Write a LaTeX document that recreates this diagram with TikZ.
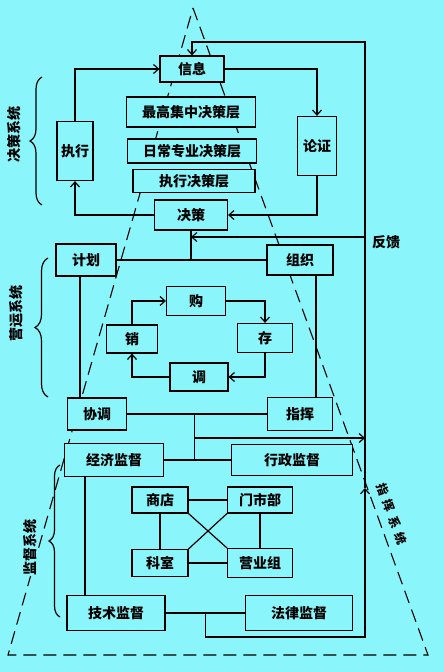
\documentclass[tikz,border=0pt]{standalone}
\usepackage{fontspec}
\setmainfont{Noto Sans CJK SC}
\usepackage{tikz}
\usetikzlibrary{arrows.meta, decorations.pathreplacing, calc}
\definecolor{bgcyan}{HTML}{8AF5FA}

\begin{document}
\begin{tikzpicture}[x=1pt, y=-1pt, line width=1.2pt, font=\fontsize{14}{16}\selectfont\bfseries,
    >={Straight Barb[length=5pt,width=9pt]},
    box/.style 2 args={draw, rectangle, fill=bgcyan, inner sep=0pt, minimum width=#1pt, minimum height=#2pt},
    tri/.style={dash pattern=on 13pt off 7pt, line width=1.1pt},
    brc/.style={decorate, decoration={brace, amplitude=#1}},
    sys/.style={fill=bgcyan, inner sep=1pt, rotate=90}]
    \fill[bgcyan] (0,0) rectangle (444,672);
    \useasboundingbox (0,0) rectangle (444,672);
    \draw[tri] (193,8) -- (428,655) -- (8,655) -- cycle;

    \node[box={64}{26}] (xinxi) at (192,69) {信息};
    \node[box={129}{30}] (zuigao) at (191,112) {最高集中决策层};
    \node[box={129}{24}] (richang) at (192,151) {日常专业决策层};
    \node[box={122}{23}] (zxceng) at (194,181) {执行决策层};
    \node[box={73}{30}] (juece) at (191,215) {决策};
    \node[box={36}{59}] (zhixing) at (75,151) {执行};
    \node[box={39}{59}] (lunzheng) at (317,146) {论证};

    \node[box={60}{32}] (jihua) at (86,260) {计划};
    \node[box={66}{30}] (zuzhi) at (300,260) {组织};
    \node[box={59}{29}] (gou) at (196,301) {购};
    \node[box={51}{28}] (xiao) at (132,339) {销};
    \node[box={55}{29}] (cun) at (265,338) {存};
    \node[box={58}{28}] (tiao) at (199,377) {调};
    \node[box={59}{32}] (xietiao) at (97,414) {协调};
    \node[box={65}{33}] (zhihui) at (300,414) {指挥};

    \node[box={99}{33}] (jingji) at (114,460) {经济监督};
    \node[box={121}{31}] (xingzheng) at (292,460) {行政监督};
    \node[box={56}{26}] (shangdian) at (160,500) {商店};
    \node[box={65}{26}] (menshi) at (260,500) {门市部};
    \node[box={56}{27}] (keshi) at (160,563) {科室};
    \node[box={65}{29}] (yingye) at (260,563) {营业组};
    \node[box={98}{35}] (jishu) at (116,613) {技术监督};
    \node[box={107}{35}] (falv) at (299,613) {法律监督};

    \coordinate (fbtop) at (365,42);
    \coordinate (fbfk) at (365,237);
    \coordinate (zhmid) at (365,438);
    \coordinate (fbmid) at (365,488);
    \coordinate (fbbot) at (365,637);

    \draw[->] (zhixing.north) |- (xinxi.west);
    \draw[->] (xinxi.east) -| (lunzheng.north);
    \draw[->] (lunzheng.south) |- (juece.east);
    \draw[->] (juece.west) -| (zhixing.south);
    \draw[->] (fbmid) -- (fbtop) -| (xinxi.north);
    \draw[->] (fbfk) -- (juece.south |- fbfk);
    \draw (juece.south) -- (juece.south |- jihua.east);
    \draw (jihua) -- (zuzhi);

    \draw[->] (xiao.north) |- (gou.west);
    \draw[->] (gou.east) -| (cun.north);
    \draw[->] (cun.south) |- (tiao.east);
    \draw[->] (tiao.west) -| (xiao.south);
    \draw ([xshift=-6pt]jihua.south) -- ([xshift=-6pt]jihua.south |- xietiao.north);
    \draw ([xshift=16pt]zuzhi.south) -- ([xshift=16pt]zuzhi.south |- zhihui.north);
    \draw (xietiao) -- (zhihui);
    \coordinate (j2) at ($(xietiao.east)!0.48!(zhihui.west)$);
    \draw (j2) -- (j2 |- jingji.east);
    \draw[->] (j2 |- zhmid) -- (zhmid);

    \draw (jingji) -- (xingzheng);
    \draw (shangdian) -- (menshi);
    \draw (keshi) -- (yingye);
    \draw (shangdian) -- (keshi);
    \draw (menshi) -- (yingye);
    \draw (shangdian.south east) -- (yingye.north west);
    \draw (menshi.south west) -- (keshi.north east);
    \draw ([xshift=-29pt]jingji.south) -- ([xshift=-29pt]jingji.south |- jishu.north);
    \draw (jishu) -- (falv);
    \coordinate (j4) at ($(jishu.east)!0.5!(falv.west)$);
    \draw[->] (j4) |- (fbbot) -- (fbmid);

    \draw[brc=12pt] (42,205) -- (42,77);
    \draw[brc=13pt] (48,397) -- (48,258);
    \draw[brc=11pt] (60,617) -- (60,465);
    \node[sys] (jcxt) at (14,134) {决策系统};
    \node[sys] (yyxt) at (16,313) {营运系统};
    \node[sys] (jdxt) at (30,547) {监督系统};
    \foreach \ch [count=\i] in {指,挥,系,统}
        \node[rotate=-70, inner sep=0pt, font=\fontsize{12}{12}\selectfont\bfseries] (zhxt\i) at (377+6*\i,473+16.5*\i) {\ch};
    \node (fankui) at (386,242) {反馈};
\end{tikzpicture}
\end{document}
